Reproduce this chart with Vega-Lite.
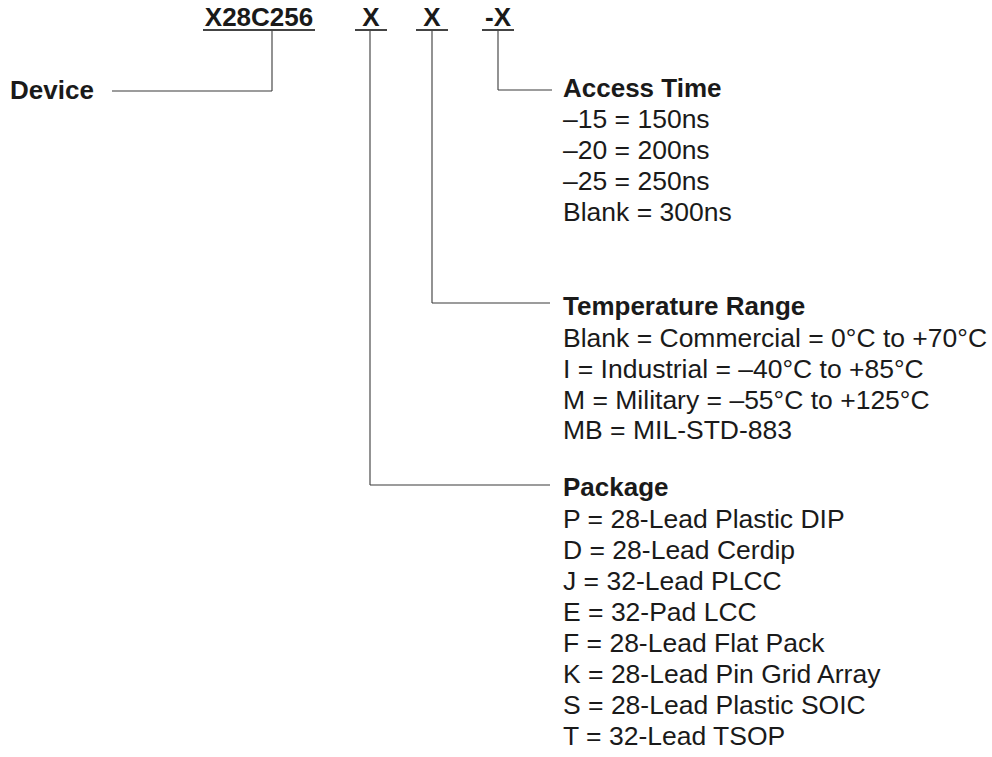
{
  "$schema": "https://vega.github.io/schema/vega-lite/v6.json",
  "width": 992,
  "height": 757,
  "padding": 0,
  "autosize": {"type": "none"},
  "background": "white",
  "config": {"view": {"stroke": null}},
  "datasets": {
    "connectors": [
      {"x": 272, "x2": 272, "y": 30, "y2": 91},
      {"x": 112, "x2": 272, "y": 91, "y2": 91},
      {"x": 498, "x2": 498, "y": 30, "y2": 90},
      {"x": 498, "x2": 552, "y": 90, "y2": 90},
      {"x": 432, "x2": 432, "y": 30, "y2": 303},
      {"x": 432, "x2": 550, "y": 303, "y2": 303},
      {"x": 370, "x2": 370, "y": 30, "y2": 485},
      {"x": 370, "x2": 550, "y": 485, "y2": 485}
    ],
    "underlines": [
      {"x": 203, "x2": 315, "y": 30},
      {"x": 355, "x2": 387, "y": 30},
      {"x": 416, "x2": 448, "y": 30},
      {"x": 482, "x2": 514, "y": 30}
    ],
    "codes": [
      {"label": "X28C256", "x": 259, "y": 26},
      {"label": "X", "x": 371, "y": 26},
      {"label": "X", "x": 432, "y": 26},
      {"label": "-X", "x": 498, "y": 26}
    ],
    "headings": [
      {"label": "Device", "x": 10, "y": 99},
      {"label": "Access Time", "x": 563, "y": 97},
      {"label": "Temperature Range", "x": 563, "y": 315},
      {"label": "Package", "x": 563, "y": 496}
    ],
    "items": [
      {"label": "–15 = 150ns", "x": 563, "y": 128},
      {"label": "–20 = 200ns", "x": 563, "y": 159},
      {"label": "–25 = 250ns", "x": 563, "y": 190},
      {"label": "Blank = 300ns", "x": 563, "y": 221},
      {"label": "Blank = Commercial = 0°C to +70°C", "x": 563, "y": 347},
      {"label": "I = Industrial = –40°C to +85°C", "x": 563, "y": 378},
      {"label": "M = Military = –55°C to +125°C", "x": 563, "y": 409},
      {"label": "MB = MIL-STD-883", "x": 563, "y": 439},
      {"label": "P = 28-Lead Plastic DIP", "x": 563, "y": 528},
      {"label": "D = 28-Lead Cerdip", "x": 563, "y": 559},
      {"label": "J = 32-Lead PLCC", "x": 563, "y": 590},
      {"label": "E = 32-Pad LCC", "x": 563, "y": 621},
      {"label": "F = 28-Lead Flat Pack", "x": 563, "y": 652},
      {"label": "K = 28-Lead Pin Grid Array", "x": 563, "y": 683},
      {"label": "S = 28-Lead Plastic SOIC", "x": 563, "y": 714},
      {"label": "T = 32-Lead TSOP", "x": 563, "y": 745}
    ]
  },
  "layer": [
    {
      "data": {"name": "connectors"},
      "mark": {"type": "rule", "stroke": "#3a3a3a", "strokeWidth": 1.1},
      "encoding": {
        "x": {"field": "x", "type": "quantitative", "scale": {"domain": [0, 992], "nice": false, "zero": false}, "axis": null},
        "x2": {"field": "x2"},
        "y": {"field": "y", "type": "quantitative", "scale": {"domain": [0, 757], "nice": false, "zero": false, "reverse": true}, "axis": null},
        "y2": {"field": "y2"}
      }
    },
    {
      "data": {"name": "underlines"},
      "mark": {"type": "rule", "stroke": "#444444", "strokeWidth": 2},
      "encoding": {
        "x": {"field": "x", "type": "quantitative"},
        "x2": {"field": "x2"},
        "y": {"field": "y", "type": "quantitative"}
      }
    },
    {
      "data": {"name": "codes"},
      "mark": {"type": "text", "font": "Liberation Sans", "fontWeight": "bold", "fontSize": 26, "align": "center", "baseline": "alphabetic", "color": "#1a1a1a"},
      "encoding": {
        "x": {"field": "x", "type": "quantitative"},
        "y": {"field": "y", "type": "quantitative"},
        "text": {"field": "label"}
      }
    },
    {
      "data": {"name": "headings"},
      "mark": {"type": "text", "font": "Liberation Sans", "fontWeight": "bold", "fontSize": 26, "align": "left", "baseline": "alphabetic", "color": "#1a1a1a"},
      "encoding": {
        "x": {"field": "x", "type": "quantitative"},
        "y": {"field": "y", "type": "quantitative"},
        "text": {"field": "label"}
      }
    },
    {
      "data": {"name": "items"},
      "mark": {"type": "text", "font": "Liberation Sans", "fontSize": 26.5, "align": "left", "baseline": "alphabetic", "color": "#1a1a1a"},
      "encoding": {
        "x": {"field": "x", "type": "quantitative"},
        "y": {"field": "y", "type": "quantitative"},
        "text": {"field": "label"}
      }
    }
  ]
}
